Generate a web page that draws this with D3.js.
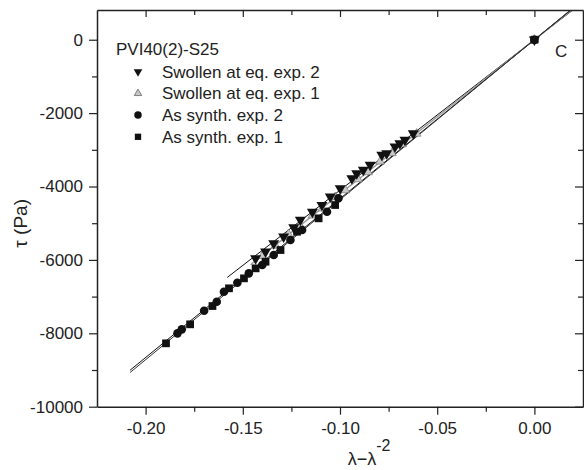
<!DOCTYPE html>
<html><head><meta charset="utf-8">
<script src="https://cdn.jsdelivr.net/npm/d3@7"></script>
<style>
html,body{margin:0;padding:0;background:#fff;}
svg{display:block;font-family:"Liberation Sans",Arial,sans-serif;}
</style></head>
<body>
<svg id="chart" width="584" height="470"></svg>
<script>
// ---- data ----
const xMajor = [-0.20, -0.15, -0.10, -0.05, 0.00];
const xTickLabels = ["-0.20", "-0.15", "-0.10", "-0.05", "0.00"];
const xMinor = [-0.175, -0.125, -0.075, -0.025];
const yMajor = [0, -2000, -4000, -6000, -8000, -10000];
const yTickLabels = ["0", "-2000", "-4000", "-6000", "-8000", "-10000"];
const yMinor = [-1000, -3000, -5000, -7000, -9000];

const seriesNames = ["Swollen at eq. exp. 2", "Swollen at eq. exp. 1", "As synth. exp. 2", "As synth. exp. 1"];

const swollen2X = [-0.1434,-0.1383,-0.1341,-0.1290,-0.1238,-0.1204,-0.1142,-0.1093,-0.1050,-0.0999,-0.0939,-0.0914,-0.0880,-0.0845,-0.0785,-0.0760,-0.0717,-0.0692,-0.0666,-0.0623,0];
const swollen2Y = [-5957,-5777,-5548,-5368,-5112,-4913,-4695,-4505,-4278,-4049,-3777,-3641,-3551,-3414,-3142,-3096,-2916,-2823,-2733,-2551,0];

const swollen1X = [-0.1399,-0.1332,-0.1265,-0.1204,-0.1142,-0.1091,-0.1025,-0.0973,-0.0907,-0.0856,-0.0794,-0.0733,-0.0681,-0.0606,0];
const swollen1Y = [-5890,-5610,-5300,-5070,-4790,-4600,-4290,-4100,-3800,-3610,-3320,-3090,-2850,-2560,0];

const synth2X = [-0.1836,-0.1814,-0.1699,-0.1634,-0.1597,-0.1528,-0.1469,-0.1400,-0.1341,-0.1255,-0.1195,-0.1067,-0.1008,0];
const synth2Y = [-8001,-7892,-7385,-7140,-6867,-6622,-6366,-6139,-5867,-5458,-5186,-4687,-4322,0];

const synth1X = [-0.1895,-0.1771,-0.1656,-0.1571,-0.1494,-0.1434,-0.1383,-0.1306,-0.1221,-0.1110,-0.1025,0];
const synth1Y = [-8273,-7755,-7257,-6774,-6502,-6230,-6049,-5731,-5232,-4867,-4504,0];

// linear fits through the origin: slope and starting abscissa
const fitSlopes = [41000, 42000, 43300, 43600];
const fitStartX = [-0.158, -0.146, -0.208, -0.208];
const fitEndX = 0.025;

// ---- layout ----
const svg = d3.select("#chart");
const L = 97, R = 583, T = 10, B = 406.7;
const x = d3.scaleLinear().domain([-0.225, 0.025]).range([L, R]);
const y = d3.scaleLinear().domain([-10000, 810]).range([B, T]);
const ink = "#222";
const fontSize = 17;

svg.append("defs").append("clipPath").attr("id", "clip")
  .append("rect").attr("x", L).attr("y", T).attr("width", R - L).attr("height", B - T);

// fit lines
const lineStyles = [
  {stroke: "#111", w: 1},
  {stroke: "#999", w: 1.4},
  {stroke: "#111", w: 1},
  {stroke: "#333", w: 1}
];
const gl = svg.append("g").attr("clip-path", "url(#clip)");
fitSlopes.forEach((s, i) => {
  gl.append("line")
    .attr("x1", x(fitStartX[i])).attr("y1", y(s * fitStartX[i]))
    .attr("x2", x(fitEndX)).attr("y2", y(s * fitEndX))
    .attr("stroke", lineStyles[i].stroke).attr("stroke-width", lineStyles[i].w);
});

// markers
const symDown = d3.symbol().type(d3.symbolTriangle).size(52)();
const symUp = d3.symbol().type(d3.symbolTriangle).size(34)();
const symCircle = d3.symbol().type(d3.symbolCircle).size(58)();
const symSquare = d3.symbol().type(d3.symbolSquare).size(60)();

const seriesDefs = [
  {xs: swollen1X, ys: swollen1Y, path: symUp, rot: 0, fill: "#c8c8c8", stroke: "#666"},
  {xs: synth1X, ys: synth1Y, path: symSquare, rot: 0, fill: "#111", stroke: "none"},
  {xs: synth2X, ys: synth2Y, path: symCircle, rot: 0, fill: "#111", stroke: "none"},
  {xs: swollen2X, ys: swollen2Y, path: symDown, rot: 180, fill: "#111", stroke: "none"}
];
const gp = svg.append("g");
seriesDefs.forEach(sd => {
  gp.selectAll(null).data(sd.xs.map((v, i) => [v, sd.ys[i]])).enter().append("path")
    .attr("d", sd.path)
    .attr("transform", d => `translate(${x(d[0])},${y(d[1])}) rotate(${sd.rot})`)
    .attr("fill", sd.fill).attr("stroke", sd.stroke).attr("stroke-width", 0.6);
});

// axes
function styleAxis(g) {
  g.select(".domain").attr("stroke", ink).attr("stroke-width", 1.5);
  g.selectAll(".tick line").attr("stroke", ink).attr("stroke-width", 1.2);
  g.selectAll("text").attr("fill", ink).style("font-size", fontSize + "px")
    .style("font-family", '"Liberation Sans", Arial, sans-serif');
}
// bottom
const gB = svg.append("g").attr("transform", `translate(0,${B})`)
  .call(d3.axisBottom(x).tickValues(xMajor).tickSize(8).tickPadding(7)
    .tickFormat((d, i) => xTickLabels[i]).tickSizeOuter(0));
styleAxis(gB);
svg.append("g").attr("transform", `translate(0,${B})`)
  .call(d3.axisBottom(x).tickValues(xMinor).tickSize(5).tickFormat("").tickSizeOuter(0))
  .call(g => { g.select(".domain").remove(); styleAxis(g); });
// top
const gT = svg.append("g").attr("transform", `translate(0,${T})`)
  .call(d3.axisTop(x).tickValues(xMajor).tickSize(-7).tickFormat("").tickSizeOuter(0));
styleAxis(gT);
svg.append("g").attr("transform", `translate(0,${T})`)
  .call(d3.axisTop(x).tickValues(xMinor).tickSize(-5).tickFormat("").tickSizeOuter(0))
  .call(g => { g.select(".domain").remove(); styleAxis(g); });
// left
const gL = svg.append("g").attr("transform", `translate(${L},0)`)
  .call(d3.axisLeft(y).tickValues(yMajor).tickSize(8).tickPadding(6)
    .tickFormat((d, i) => yTickLabels[i]).tickSizeOuter(0));
styleAxis(gL);
svg.append("g").attr("transform", `translate(${L},0)`)
  .call(d3.axisLeft(y).tickValues(yMinor).tickSize(5).tickFormat("").tickSizeOuter(0))
  .call(g => { g.select(".domain").remove(); styleAxis(g); });
// right
const gR = svg.append("g").attr("transform", `translate(${R},0)`)
  .call(d3.axisRight(y).tickValues(yMajor).tickSize(-8).tickFormat("").tickSizeOuter(0));
styleAxis(gR);
svg.append("g").attr("transform", `translate(${R},0)`)
  .call(d3.axisRight(y).tickValues(yMinor).tickSize(-5).tickFormat("").tickSizeOuter(0))
  .call(g => { g.select(".domain").remove(); styleAxis(g); });

// axis titles
const xt = svg.append("text").attr("x", (L + R) / 2 + 29).attr("y", 465)
  .attr("text-anchor", "middle").attr("fill", ink).style("font-size", "18px");
xt.append("tspan").text("λ−λ");
xt.append("tspan").attr("dy", -14).style("font-size", "16px").text("-2");

svg.append("text").attr("transform", `translate(27,${(T + B) / 2 + 15}) rotate(-90)`)
  .attr("text-anchor", "middle").attr("fill", ink).style("font-size", "19px")
  .text("τ (Pa)");

// panel letter
svg.append("text").attr("x", 555).attr("y", 57).attr("fill", ink)
  .style("font-size", "17px").text("C");

// legend
svg.append("text").attr("x", 116).attr("y", 54.5).attr("fill", ink)
  .style("font-size", fontSize + "px").text("PVI40(2)-S25");
const legSyms = [
  {path: d3.symbol().type(d3.symbolTriangle).size(32)(), rot: 180, fill: "#111", stroke: "none"},
  {path: d3.symbol().type(d3.symbolTriangle).size(24)(), rot: 0, fill: "#c8c8c8", stroke: "#555"},
  {path: d3.symbol().type(d3.symbolCircle).size(44)(), rot: 0, fill: "#111", stroke: "none"},
  {path: d3.symbol().type(d3.symbolSquare).size(40)(), rot: 0, fill: "#111", stroke: "none"}
];
seriesNames.forEach((n, i) => {
  const cy = 71.7 + i * 21.7;
  svg.append("path").attr("d", legSyms[i].path)
    .attr("transform", `translate(138,${cy}) rotate(${legSyms[i].rot})`)
    .attr("fill", legSyms[i].fill).attr("stroke", legSyms[i].stroke).attr("stroke-width", 0.7);
  svg.append("text").attr("x", 162).attr("y", cy + 6).attr("fill", ink)
    .style("font-size", fontSize + "px").text(n);
});
</script>
</body></html>
